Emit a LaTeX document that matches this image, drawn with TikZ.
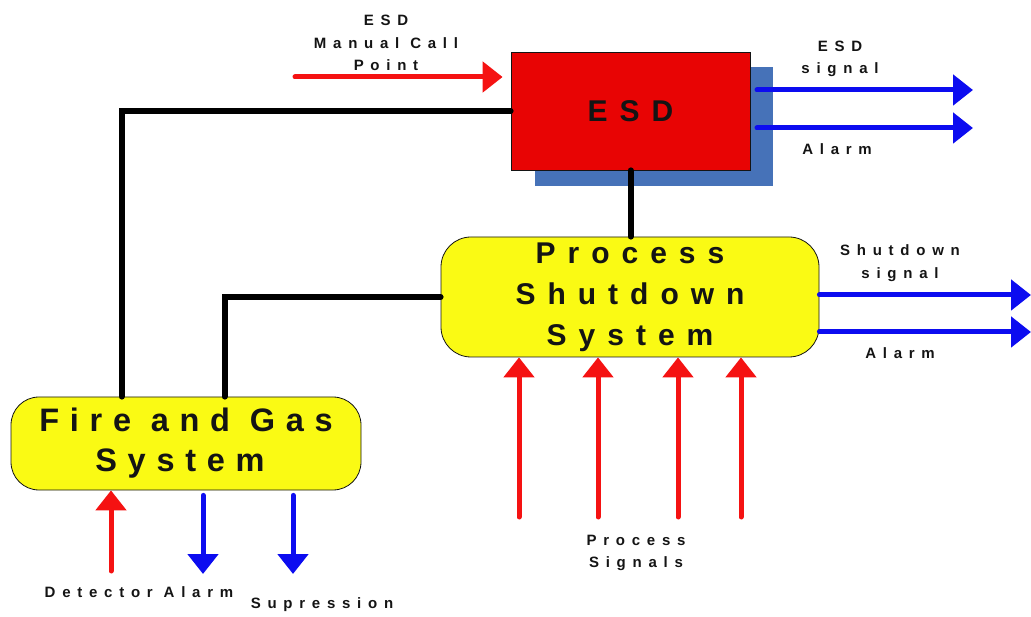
\documentclass[tikz,border=0pt]{standalone}
\usepackage{fontspec}
\setmainfont{Liberation Sans}
\usetikzlibrary{arrows.meta,calc}
\definecolor{esdred}{RGB}{232,4,4}
\definecolor{shadowblue}{RGB}{70,114,184}
\definecolor{boxyellow}{RGB}{250,250,20}
\definecolor{arrred}{RGB}{245,18,18}
\definecolor{arrblue}{RGB}{12,12,240}
\definecolor{txt}{RGB}{20,20,20}
\begin{document}
\begin{tikzpicture}[x=1pt,y=-1pt,
  bigtxt/.style={font=\fontsize{30}{41}\selectfont\bfseries\addfontfeature{LetterSpace=40}, text=txt, align=center},
  fgtxt/.style={font=\fontsize{32.5}{40}\selectfont\bfseries\addfontfeature{LetterSpace=33}, text=txt, align=center},
  lbl/.style={font=\fontsize{15}{22.5}\selectfont\bfseries\addfontfeature{LetterSpace=45}, text=txt, align=center, inner sep=0pt},
  sysbox/.style={draw=txt, line width=0.8pt, fill=boxyellow, rounded corners=28pt, inner sep=0pt},
  wire/.style={line width=6pt, line cap=round, draw=black},
  redarr/.style={draw=arrred, line width=5pt, line cap=round, -{Triangle[width=30pt,length=20pt]}},
  bluearr/.style={draw=arrblue, line width=5pt, line cap=round, -{Triangle[width=30pt,length=20pt]}}
]
\useasboundingbox[fill=white] (0,0) rectangle (1031,617);
% ESD shadow and box
\fill[shadowblue] (535,67) rectangle (773,186);
\node[draw=txt, line width=0.8pt, fill=esdred, minimum width=239pt, minimum height=118pt, inner sep=0pt, bigtxt] (esd) at (630.5,111) {\raisebox{-1pt}{ESD}};
% Process shutdown system
\node[sysbox, minimum width=378pt, minimum height=120pt, bigtxt, rounded corners=30pt] (pss) at (630,297) {\raisebox{-3pt}{\parbox{370pt}{\centering Process\\Shutdown\\System}}};
% Fire and gas
\node[sysbox, minimum width=350pt, minimum height=93pt, fgtxt] (fgs) at (186,443.5) {\raisebox{-3pt}{\parbox{340pt}{\centering Fire and Gas\\\hspace*{-12pt}System}}};
% black wires
\draw[wire] (esd.west) -| ($(fgs.north west)+(111,0)$);
\draw[wire] (pss.west) -| ($(fgs.north west)+(214,0)$);
\draw[wire] (esd.south) -- (esd.south |- pss.north);
% manual call point
\coordinate (mcp) at (295,77);
\draw[redarr, shorten >=8pt] (mcp) -- (esd.west |- mcp);
\node[lbl] (mcpl) at (386,43) {ESD\\Manual Call\\Point};
% ESD outputs
\coordinate (e1s) at (757,90);
\coordinate (e1e) at (973,90);
\coordinate (e2s) at (757,128);
\coordinate (e2e) at (973,128);
\draw[bluearr] (e1s) -- (e1e);
\draw[bluearr] (e2s) -- (e2e);
\node[lbl] (esdsig) at (840,59) {ESD\\signal};
\node[lbl] (esdal) at (837,149) {Alarm};
% PSS outputs
\coordinate (p1e) at (1031,295);
\coordinate (p2e) at (1031,332);
\draw[bluearr] (pss.east |- p1e) -- (p1e);
\draw[bluearr] (pss.east |- p2e) -- (p2e);
\node[lbl] (shsig) at (900,263) {Shutdown\\signal};
\node[lbl] (pssal) at (900,353) {Alarm};
% process signals
\foreach \x [count=\i] in {519,598,678,741}{
  \coordinate (ps\i) at (\x,517);
  \draw[redarr] (ps\i) -- (pss.south -| ps\i);
}
\node[lbl] (psl) at (636,553) {Process\\Signals};
% FGS arrows
\coordinate (det) at (111,571);
\draw[redarr] (det) -- (fgs.south -| det);
\coordinate (al) at (203,574);
\coordinate (sup) at (293,574);
\draw[bluearr] ([yshift=-5pt]fgs.south -| al) -- (al);
\draw[bluearr] ([yshift=-5pt]fgs.south -| sup) -- (sup);
\node[lbl] (detl) at (139,592) {Detector Alarm};
\node[lbl] (supl) at (322,605) {Supression};
\end{tikzpicture}
\end{document}
